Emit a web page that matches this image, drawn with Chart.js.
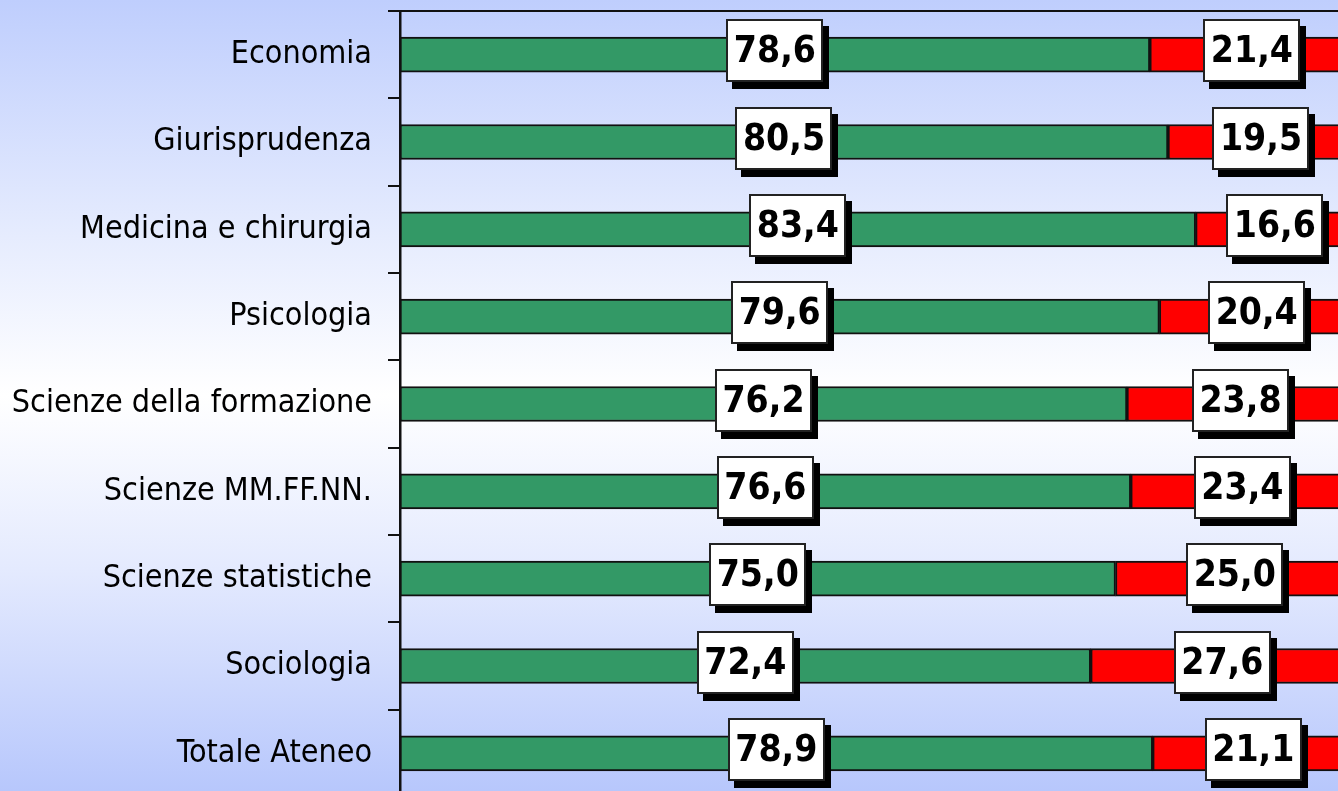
<!DOCTYPE html>
<html>
<head>
<meta charset="utf-8">
<script src="https://cdn.jsdelivr.net/npm/chart.js@4/dist/chart.umd.min.js"></script>
<style>
  html, body { margin: 0; padding: 0; overflow: hidden; width: 1338px; height: 791px; }
  body { background: linear-gradient(to bottom, #bfcefd 0%, #e6ecfe 30%, #ffffff 50%, #e4eafe 72%, #b7c7fc 100%); }
  #wrap { position: absolute; left: 0; top: 0; width: 1360px; height: 800px; }
</style>
</head>
<body>
<div id="wrap"><canvas id="c"></canvas></div>
<script>
const categories = [
  "Economia",
  "Giurisprudenza",
  "Medicina e chirurgia",
  "Psicologia",
  "Scienze della formazione",
  "Scienze MM.FF.NN.",
  "Scienze statistiche",
  "Sociologia",
  "Totale Ateneo"
];
const greenValues = [78.6, 80.5, 83.4, 79.6, 76.2, 76.6, 75.0, 72.4, 78.9];
const redValues   = [21.4, 19.5, 16.6, 20.4, 23.8, 23.4, 25.0, 27.6, 21.1];

const boxLabels = {
  id: 'boxLabels',
  afterDraw(chart) {
    const ctx = chart.ctx;
    ctx.save();
    chart.data.datasets.forEach((ds, di) => {
      const meta = chart.getDatasetMeta(di);
      meta.data.forEach((el, i) => {
        const v = ds.data[i];
        const cx = (el.x + el.base) / 2;
        const cy = el.y - 4;
        const w = 97, h = 63;
        const x0 = Math.round(cx - w / 2), y0 = Math.round(cy - h / 2);
        ctx.fillStyle = '#000';
        ctx.fillRect(x0 + 6, y0 + 7, w, h);
        ctx.fillStyle = '#fff';
        ctx.fillRect(x0, y0, w, h);
        ctx.strokeStyle = '#222';
        ctx.lineWidth = 2;
        ctx.strokeRect(x0 + 1, y0 + 1, w - 2, h - 2);
        ctx.fillStyle = '#000';
        ctx.font = 'bold 37px "DejaVu Sans Condensed", "DejaVu Sans", sans-serif';
        ctx.textAlign = 'center';
        ctx.textBaseline = 'middle';
        ctx.fillText(v.toFixed(1).replace('.', ','), cx, cy + 2);
      });
    });
    ctx.restore();
  }
};

new Chart(document.getElementById('c'), {
  type: 'bar',
  data: {
    labels: categories,
    datasets: [
      { data: greenValues, backgroundColor: '#339966', borderColor: '#111', borderWidth: 2, borderSkipped: false, barThickness: 35 },
      { data: redValues, backgroundColor: '#ff0000', borderColor: '#111', borderWidth: 2, borderSkipped: false, barThickness: 35 }
    ]
  },
  options: {
    indexAxis: 'y',
    responsive: true,
    maintainAspectRatio: false,
    animation: false,
    layout: { padding: { left: 0, right: 6, top: 11, bottom: 3 } },
    plugins: { legend: { display: false }, tooltip: { enabled: false } },
    scales: {
      x: {
        position: 'top',
        stacked: true,
        min: 0, max: 100,
        grid: { display: false, drawTicks: false },
        border: { display: true, color: '#111', width: 2 },
        ticks: { display: false },
        afterFit(s) { s.height = 0; s.paddingLeft = 0; s.paddingRight = 0; }
      },
      y: {
        stacked: true,
        grid: { display: true, drawOnChartArea: false, drawTicks: true, tickLength: 12, color: '#111', lineWidth: 2, offset: true },
        border: { display: true, color: '#111', width: 2.5 },
        ticks: { color: '#000', padding: 16, font: { family: '"DejaVu Sans Condensed", "DejaVu Sans", sans-serif', size: 32 } },
        afterFit(s) { s.width = 400; s.paddingTop = 0; s.paddingBottom = 0; }
      }
    }
  },
  plugins: [boxLabels]
});
</script>
</body>
</html>
